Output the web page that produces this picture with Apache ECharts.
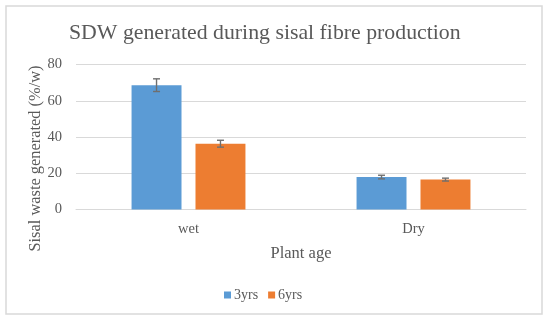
<!DOCTYPE html>
<html><head><meta charset="utf-8">
<script src="https://cdn.jsdelivr.net/npm/echarts@6/dist/echarts.min.js"></script>
<style>html,body{margin:0;padding:0;background:#fff}#c{width:550px;height:322px}</style>
</head><body><div id="c"></div>
<script>
var categories = ['wet', 'Dry'];
var seriesNames = ['3yrs', '6yrs'];
var values3 = [68.6, 17.9];
var values6 = [36.3, 16.5];
var err3 = [3.5, 1.0];
var err6 = [1.9, 0.8];
var yTicks = [0, 20, 40, 60, 80];
var yAxisTitle = 'Sisal waste generated (%/w)';

var FONT = '"Liberation Serif", "DejaVu Serif", serif';
var TXT = '#595959';
var colors = ['#5b9bd5', '#ed7d31'];
var BARW = 0.222, GAP = 0.28;

function errSeries(vals, errs, idx) {
  var data = vals.map(function (v, i) { return [i, v - errs[i], v + errs[i]]; });
  return {
    type: 'custom', z: 10, silent: true,
    data: data,
    renderItem: function (params, api) {
      var i = api.value(0);
      var lo = api.coord([i, api.value(1)]);
      var hi = api.coord([i, api.value(2)]);
      var band = api.size([1, 0])[0];
      var bw = band * BARW;
      var off = (bw + bw * GAP) / 2 * (idx === 0 ? -1 : 1);
      var x = lo[0] + off;
      var cw = 3.5;
      var st = { stroke: '#6f6f6f', lineWidth: 1.4 };
      return { type: 'group', children: [
        { type: 'line', shape: { x1: x, y1: lo[1], x2: x, y2: hi[1] }, style: st },
        { type: 'line', shape: { x1: x - cw, y1: lo[1], x2: x + cw, y2: lo[1] }, style: st },
        { type: 'line', shape: { x1: x - cw, y1: hi[1], x2: x + cw, y2: hi[1] }, style: st }
      ]};
    }
  };
}

var chart = echarts.init(document.getElementById('c'), null, { renderer: 'canvas' });
chart.setOption({
  animation: false,
  textStyle: { fontFamily: FONT },
  graphic: [
    { type: 'rect', shape: { x: 6, y: 6, width: 536, height: 308 }, style: { fill: 'none', stroke: '#d9d9d9', lineWidth: 1.5 }, z: -1 },
    { type: 'text', x: 36, y: 158.5, rotation: Math.PI / 2,
      style: { text: yAxisTitle, fill: TXT, font: '16.4px ' + FONT, align: 'center', verticalAlign: 'middle' } }
  ],
  title: { text: 'SDW generated during sisal fibre production', left: 64, top: 17,
    textStyle: { fontFamily: FONT, fontSize: 21.8, fontWeight: 'normal', color: TXT } },
  legend: { data: seriesNames, left: 219, top: 283, itemWidth: 7, itemHeight: 7, itemGap: 10, icon: 'rect',
    textStyle: { fontFamily: FONT, fontSize: 14, color: TXT, padding: [0, 0, 0, -2] } },
  grid: { left: 76, right: 24, top: 64.5, bottom: 112.5 },
  xAxis: { type: 'category', data: categories,
    axisLine: { lineStyle: { color: '#d9d9d9', width: 1 } }, axisTick: { show: false },
    axisLabel: { fontFamily: FONT, fontSize: 14.5, color: TXT, margin: 12 },
    name: 'Plant age', nameLocation: 'middle', nameGap: 36,
    nameTextStyle: { fontFamily: FONT, fontSize: 16.5, color: TXT } },
  yAxis: { type: 'value', min: 0, max: 80, interval: 20,
    axisLine: { show: false }, axisTick: { show: false },
    splitLine: { lineStyle: { color: '#d9d9d9', width: 1 } },
    axisLabel: { fontFamily: FONT, fontSize: 14.5, color: TXT, margin: 14,
      formatter: function (v) { return yTicks.indexOf(v) >= 0 ? String(v) : ''; } } },
  series: [
    { name: seriesNames[0], type: 'bar', data: values3, barWidth: (BARW * 100) + '%', barGap: (GAP * 100) + '%',
      itemStyle: { color: colors[0] } },
    { name: seriesNames[1], type: 'bar', data: values6, barWidth: (BARW * 100) + '%', barGap: (GAP * 100) + '%',
      itemStyle: { color: colors[1] } },
    errSeries(values3, err3, 0),
    errSeries(values6, err6, 1)
  ]
});
</script></body></html>
